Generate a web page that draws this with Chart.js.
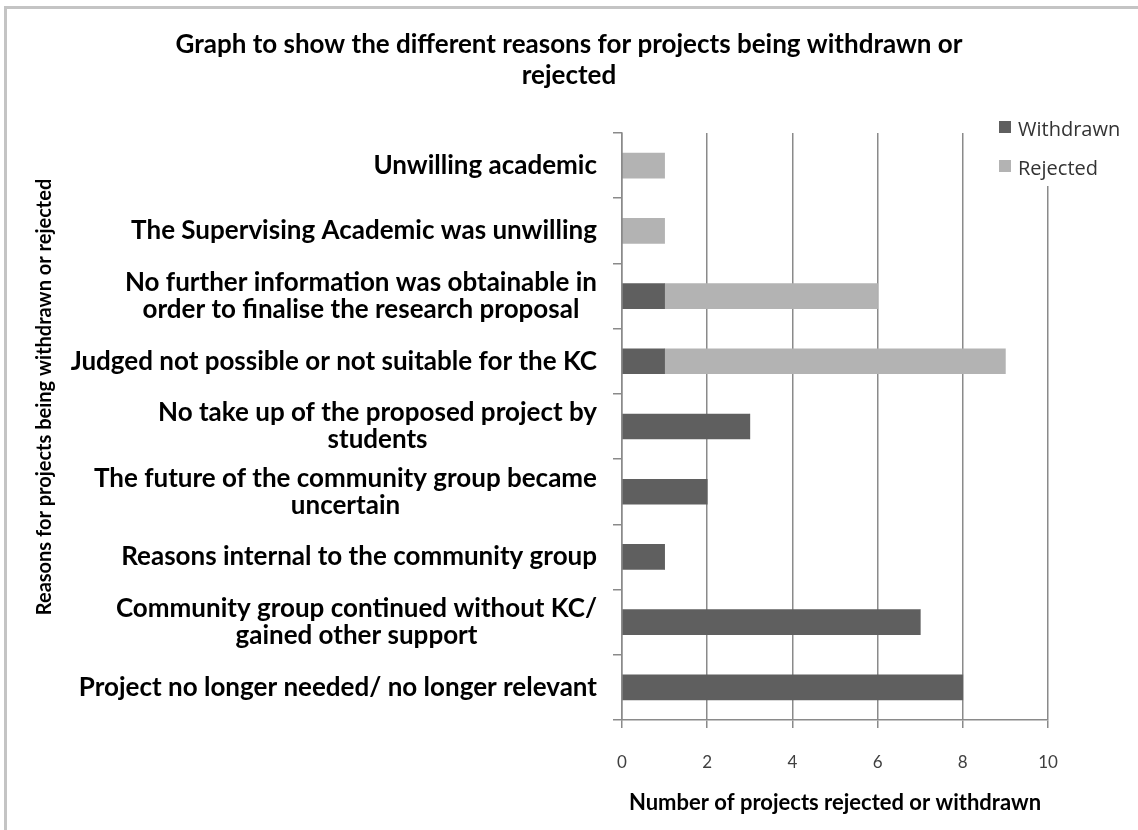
<!DOCTYPE html>
<html>
<head>
<meta charset="utf-8">
<script src="https://cdn.jsdelivr.net/npm/chart.js@4/dist/chart.umd.min.js"></script>
<style>
  html, body { margin: 0; padding: 0; background: #fff; }
  #wrap { position: relative; width: 1138px; height: 830px; }
  #frame { position: absolute; left: 4px; top: 6px; right: 0; bottom: 0; border-left: 3px solid #c4c4c4; border-top: 3px solid #c4c4c4; pointer-events: none; }
  canvas { position: absolute; left: 0; top: 0; }
</style>
</head>
<body>
<div id="wrap">
  <canvas id="chart" width="1138" height="830"></canvas>
  <div id="frame"></div>
</div>
<script>
// Data (top to bottom as in the picture)
const categories = [
    'Unwilling academic',
    'The Supervising Academic was unwilling',
    ['No further information was obtainable in', 'order to finalise the research proposal'],
    'Judged not possible or not suitable for the KC',
    ['No take up of the proposed project by', 'students'],
    ['The future of the community group became', 'uncertain'],
    'Reasons internal to the community group',
    ['Community group continued without KC/', 'gained other support'],
    'Project no longer needed/ no longer relevant'
];
const withdrawn = [0, 0, 1, 1, 3, 2, 1, 7, 8];
const rejected = [1, 1, 5, 8, 0, 0, 0, 0, 0];
const xTicks = [0, 2, 4, 6, 8, 10];

const titleLines = ['Graph to show the different reasons for projects being withdrawn or', 'rejected'];
const xTitle = 'Number of projects rejected or withdrawn';
const yTitle = 'Reasons for projects being withdrawn or rejected';

const gridColor = '#8a8a8a';

// Title, legend, y labels, y title and the white patch behind the legend
const extras = {
    id: 'extras',
    afterDraw(chart) {
        const ctx = chart.ctx;
        const y = chart.scales.y;
        ctx.save();

        // main title
        ctx.fillStyle = '#000';
        ctx.textAlign = 'center';
        ctx.textBaseline = 'middle';
        ctx.font = 'bold 26px Lato';
        titleLines.forEach((t, i) => ctx.fillText(t, 569, 45 + i * 31));

        // legend sits over the plot, hiding the top of the last gridline
        ctx.fillStyle = '#fff';
        ctx.fillRect(992, 114, 146, 72);
        ctx.font = '20px "Open Sans"';
        ctx.textAlign = 'left';
        chart.data.datasets.forEach((ds, i) => {
            const top = 121 + i * 39;
            ctx.fillStyle = ds.backgroundColor;
            ctx.fillRect(999, top, 12, 12);
            ctx.fillStyle = '#333';
            ctx.fillText(ds.label, 1018, top + 9);
        });

        // category labels: each block centred on itself, block right-aligned
        ctx.font = 'bold 26px Lato';
        ctx.fillStyle = '#000';
        ctx.textAlign = 'center';
        const right = y.right - 25;
        const lh = 27;
        categories.forEach((lab, i) => {
            const lines = Array.isArray(lab) ? lab : [lab];
            const w = Math.max(...lines.map(l => ctx.measureText(l).width));
            const cx = right - w / 2;
            const py = y.getPixelForValue(i);
            lines.forEach((l, k) => {
                ctx.fillText(l, cx, py + (k - (lines.length - 1) / 2) * lh);
            });
        });

        // y axis title
        ctx.translate(45, 397);
        ctx.rotate(-Math.PI / 2);
        ctx.font = 'bold 20px Lato';
        ctx.fillText(yTitle, 0, 0);
        ctx.restore();
    }
};

new Chart(document.getElementById('chart'), {
    type: 'bar',
    data: {
        labels: categories,
        datasets: [
            { label: 'Withdrawn', data: withdrawn, backgroundColor: '#5f5f5f', barThickness: 25 },
            { label: 'Rejected', data: rejected, backgroundColor: '#b3b3b3', barThickness: 25 }
        ]
    },
    options: {
        indexAxis: 'y',
        responsive: false,
        animation: false,
        layout: { padding: { left: 0, right: 90, top: 133, bottom: 0 } },
        plugins: {
            legend: { display: false },
            tooltip: { enabled: false },
            title: { display: false }
        },
        scales: {
            x: {
                stacked: true,
                min: 0,
                max: 10,
                afterBuildTicks: s => { s.ticks = xTicks.map(v => ({ value: v })); },
                afterFit: s => { s.height = 110; },
                grid: { color: gridColor, lineWidth: 1.5, tickLength: 8 },
                border: { color: gridColor, width: 1.5 },
                ticks: { color: '#404040', font: { family: 'Lato', size: 17 }, padding: 24 },
                title: {
                    display: true,
                    text: xTitle,
                    color: '#000',
                    font: { family: 'Lato', size: 22, weight: 'bold' },
                    padding: { bottom: 14 }
                }
            },
            y: {
                stacked: true,
                afterFit: s => { s.width = 622; },
                grid: { drawOnChartArea: false, color: gridColor, lineWidth: 1.5, tickLength: 9, offset: true },
                border: { color: gridColor, width: 1.5 },
                ticks: { display: false }
            }
        }
    },
    plugins: [extras]
});
</script>
</body>
</html>
